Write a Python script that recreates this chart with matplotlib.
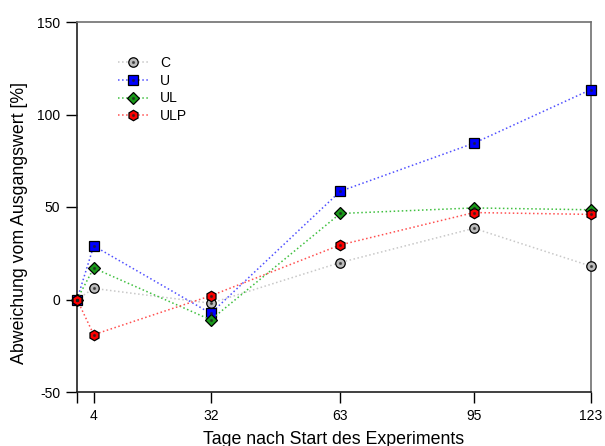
import matplotlib
matplotlib.use("Agg")
import matplotlib.pyplot as plt

plt.rcParams['font.family'] = ['Liberation Sans', 'DejaVu Sans']
plt.rcParams['axes.unicode_minus'] = False

days = [0, 4, 32, 63, 95, 123]
tick_days = [0, 4, 32, 63, 95, 123]
tick_labels = ['', '4', '32', '63', '95', '123']

c_vals = [0, 6, -2, 20, 38.5, 18]
u_vals = [0, 29, -7.5, 58.5, 84.5, 113.5]
ul_vals = [0, 17, -11, 46.5, 49.5, 48.5]
ulp_vals = [0, -19, 2, 29.5, 47, 46]

series = [
    ("C", c_vals, 'o', '#bcbcbc', '#c8c8c8', 6.8),
    ("U", u_vals, 's', '#0000ff', '#5050ff', 6.5),
    ("UL", ul_vals, 'D', '#1a9a1a', '#40c040', 6.3),
    ("ULP", ulp_vals, 'h', '#ff0000', '#ff5050', 7.5),
]

fig = plt.figure(figsize=(6.05, 4.46), dpi=100)
ax = fig.add_axes([77/605, 54/446, 514/605, 370/446])

handles = []
for name, vals, mk, face, line_c, ms in series:
    ln, = ax.plot(days, vals, linestyle=':', color=line_c, lw=1.1,
                  marker=mk, markersize=ms, markerfacecolor=face,
                  markeredgecolor='black', markeredgewidth=0.9,
                  clip_on=False, zorder=3)
    dot, = ax.plot(days, vals, linestyle='none', marker='o', markersize=1.3,
                   color='#202020', alpha=0.6, clip_on=False, zorder=4)
    handles.append((ln, dot))

ax.set_xlim(0, 123)
ax.set_ylim(-50, 150)
ax.set_xticks(tick_days)
ax.set_xticklabels(tick_labels)
ax.set_yticks([-50, 0, 50, 100, 150])
ax.tick_params(direction='out', length=8, width=1, labelsize=10, pad=4)

for side in ['left', 'bottom']:
    ax.spines[side].set_color('#202020')
for side in ['top', 'right']:
    ax.spines[side].set_color('#707070')
for s in ax.spines.values():
    s.set_linewidth(1.2)

ax.set_xlabel("Tage nach Start des Experiments", fontsize=12.8)
ax.set_ylabel("Abweichung vom Ausgangswert [%]", fontsize=12.8)
ax.xaxis.set_label_coords(0.5, -0.105)
ax.yaxis.set_label_coords(-0.095, 0.457)

ax.legend(handles, [s[0] for s in series], loc='upper left',
          bbox_to_anchor=(0.08, 0.909), frameon=False, fontsize=10,
          handlelength=2.2, handletextpad=0.8, labelspacing=0.28,
          borderpad=0, borderaxespad=0)

fig.savefig("out.png", dpi=100)
